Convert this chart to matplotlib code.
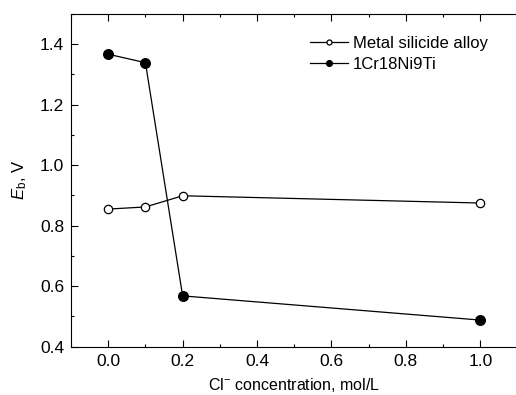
import matplotlib
matplotlib.use("Agg")
import matplotlib.pyplot as plt
from matplotlib.ticker import MultipleLocator

plt.rcParams["font.family"] = ["Liberation Sans", "DejaVu Sans"]
plt.rcParams["mathtext.fontset"] = "custom"
plt.rcParams["mathtext.rm"] = "Liberation Sans"
plt.rcParams["mathtext.it"] = "Liberation Sans:italic"

conc = [0.0, 0.1, 0.2, 1.0]
eb_silicide = [0.855, 0.862, 0.899, 0.875]
eb_steel = [1.367, 1.339, 0.568, 0.488]

fig = plt.figure(figsize=(5.16, 3.95), dpi=100)
ax = fig.add_axes([0.1376, 0.1223, 0.8654, 0.8423])

ax.plot(conc, eb_silicide, "-o", color="black", mfc="white", mec="black",
        lw=0.9, ms=6, mew=0.9, label="Metal silicide alloy")
ax.plot(conc, eb_steel, "-o", color="black", mfc="black", mec="black",
        lw=0.9, ms=7, mew=0.9, label="1Cr18Ni9Ti")

ax.set_xlim(-0.1, 1.1)
ax.set_ylim(0.4, 1.5)
ax.xaxis.set_major_locator(MultipleLocator(0.2))
ax.xaxis.set_minor_locator(MultipleLocator(0.1))
ax.yaxis.set_minor_locator(MultipleLocator(0.1))
ax.set_yticks([0.4, 0.6, 0.8, 1.0, 1.2, 1.4])
ax.tick_params(which="both", direction="in", top=True, right=False,
               labelsize=12.5, width=0.8)
ax.tick_params(which="major", length=5, pad=5)
ax.tick_params(which="minor", length=2.5)
ax.spines["right"].set_visible(False)

ax.set_xlabel("Cl$^{-}$ concentration, mol/L", fontsize=11.5, labelpad=5)
ax.set_ylabel(r"$\mathit{E}_{\mathrm{b}}$, V", fontsize=12, labelpad=8)

ax.legend(loc="upper left", bbox_to_anchor=(0.535, 0.935), frameon=False,
          fontsize=12, handlelength=2.3, markerscale=0.6,
          handletextpad=0.3, labelspacing=0.4, borderaxespad=0,
          borderpad=0)

fig.savefig("out.png", dpi=100)
